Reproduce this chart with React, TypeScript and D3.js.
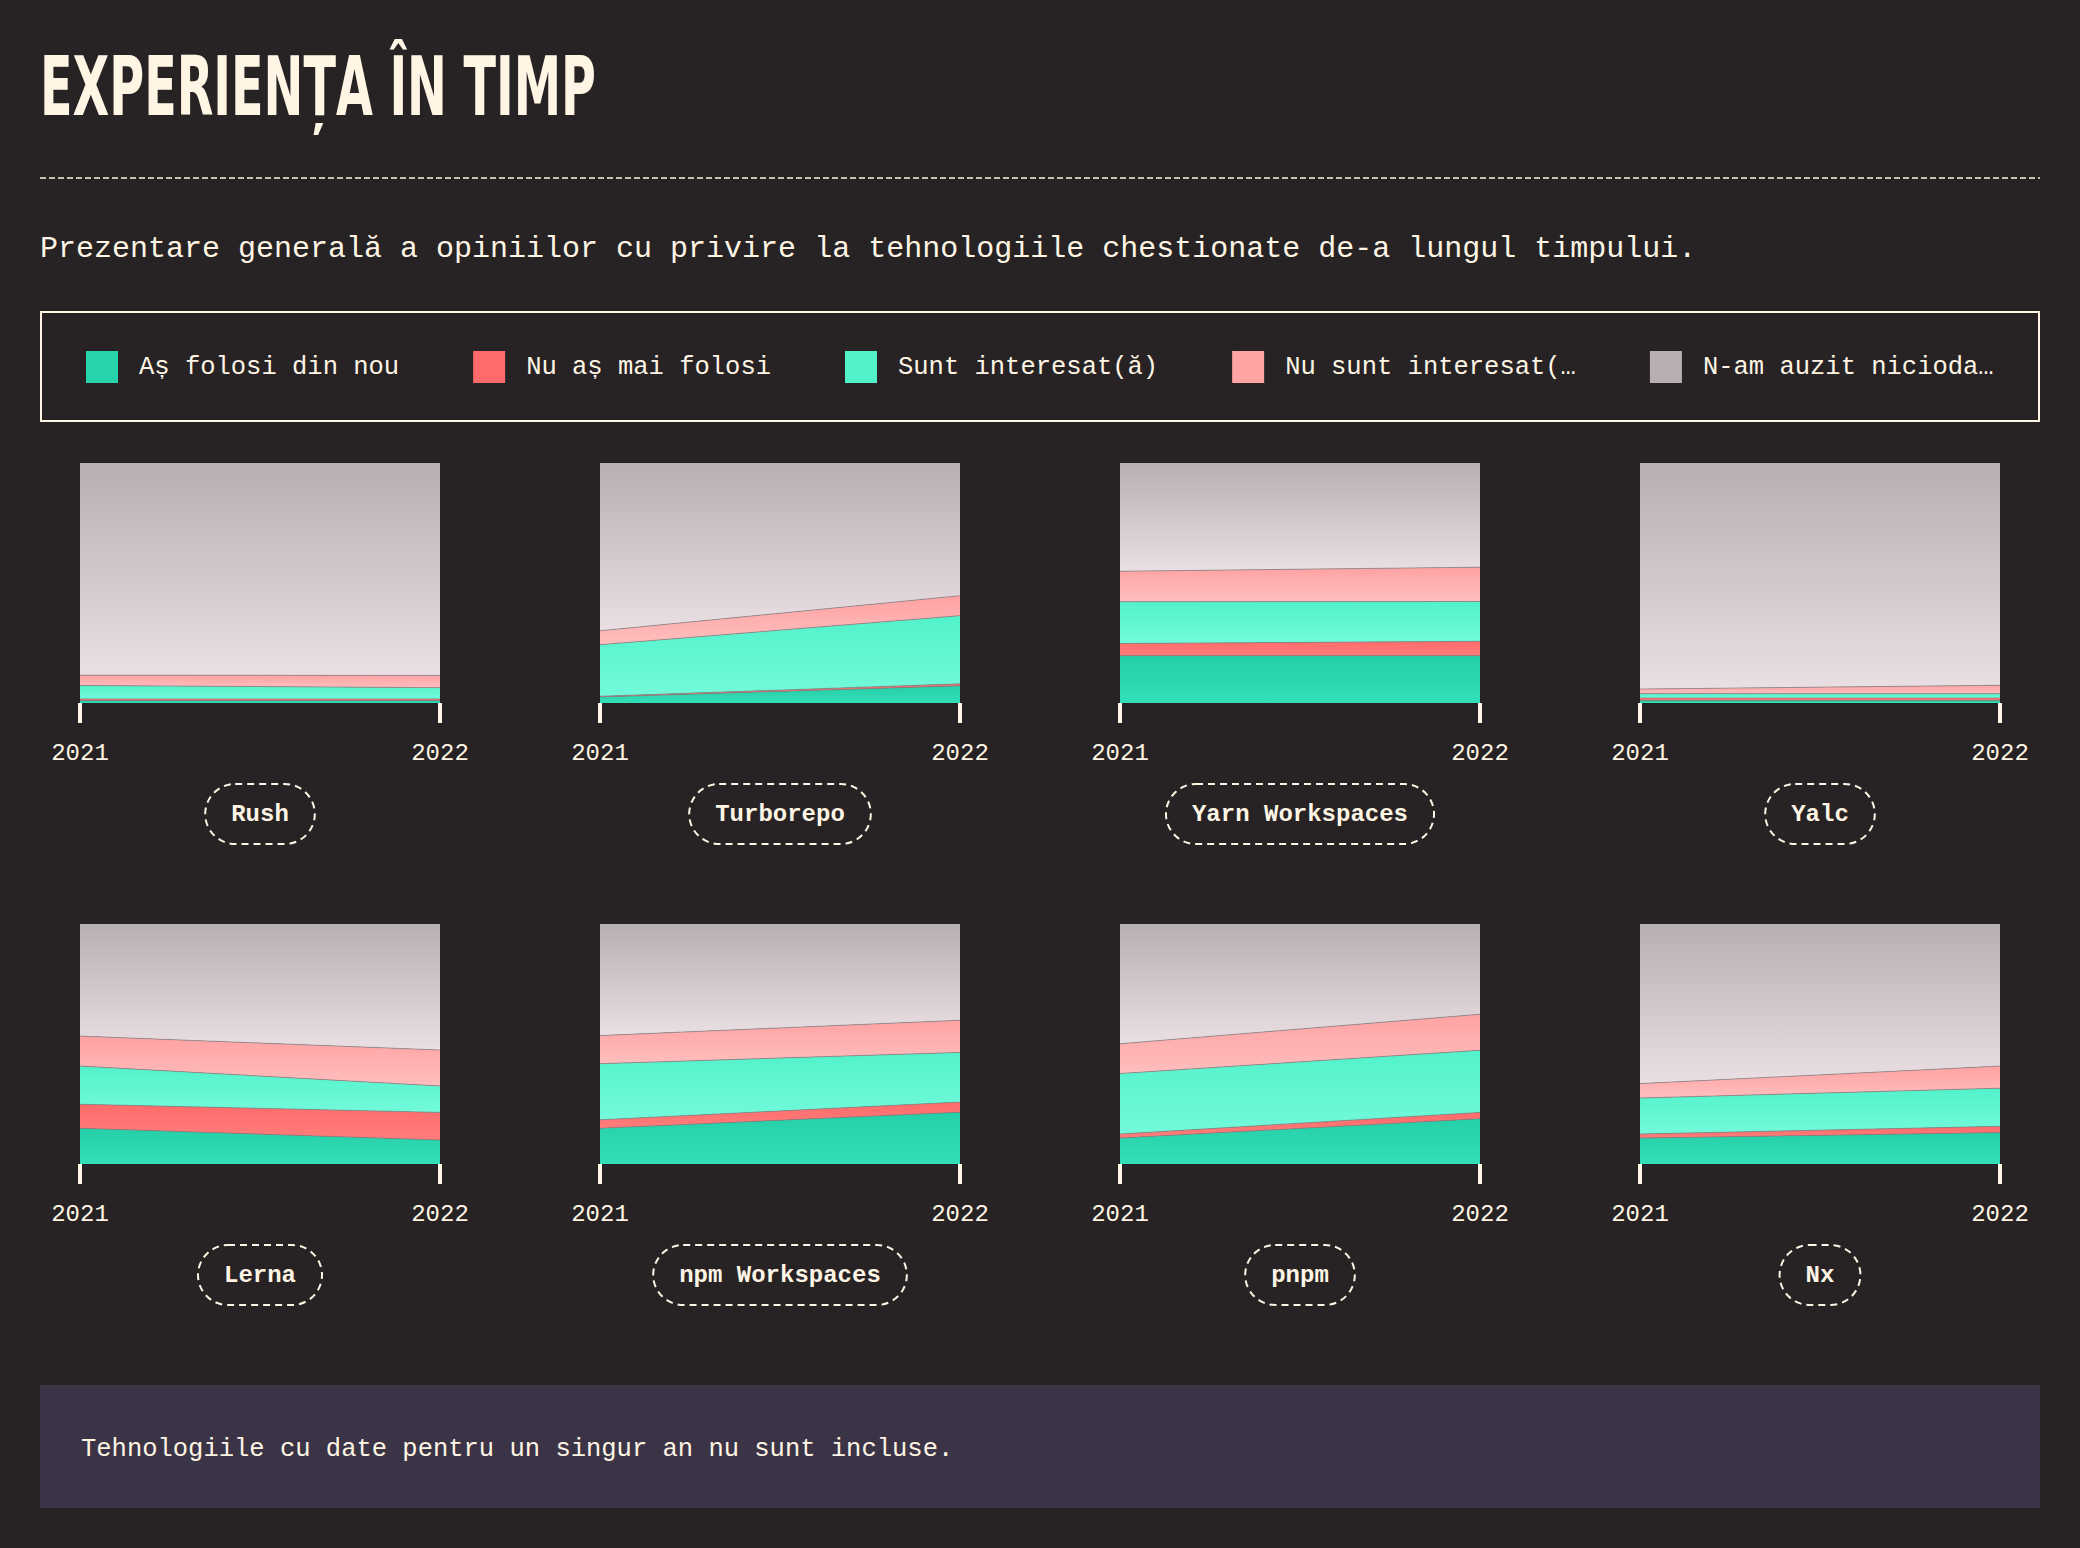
import * as d3 from "d3";
import { useEffect, useRef } from "react";

// chart data (percent of respondents, [2021, 2022])
const years = ["2021", "2022"];
const tools = ["Rush", "Turborepo", "Yarn Workspaces", "Yalc", "Lerna", "npm Workspaces", "pnpm", "Nx"];
const seriesLabels = [
  "Aș folosi din nou",
  "Nu aș mai folosi",
  "Sunt interesat(ă)",
  "Nu sunt interesat(…",
  "N-am auzit nicioda…",
];

const wouldUse = [[1.0, 1.0], [2.5, 7.2], [19.7, 19.7], [1.1, 1.1], [14.9, 10.0], [14.9, 21.6], [10.8, 18.9], [10.8, 13.1]];
const wouldNotUse = [[0.7, 0.7], [0.3, 0.8], [5.1, 6.0], [1.0, 1.0], [10.0, 11.5], [3.5, 4.2], [1.7, 2.6], [1.7, 2.6]];
const interested = [[5.6, 4.7], [21.5, 28.4], [17.4, 16.6], [1.8, 1.8], [15.9, 11.0], [23.4, 20.7], [25.2, 25.9], [15.0, 15.9]];
const notInterested = [[4.3, 5.1], [5.8, 8.3], [12.7, 14.3], [1.9, 3.5], [12.5, 15.0], [11.7, 13.4], [12.4, 15.0], [6.0, 9.2]];
const neverHeard = [[88.4, 88.5], [69.9, 55.3], [45.1, 43.4], [94.2, 92.6], [46.7, 52.5], [46.5, 40.1], [49.9, 37.6], [66.5, 59.2]];

const seriesValues = [wouldUse, wouldNotUse, interested, notInterested, neverHeard];
const swatchColors = ["#26d3ab", "#ff6b6b", "#52f2cb", "#ffa3a3", "#b8afb2"];
const gradientStops = [
  ["#25cfa8", "#33dfb6"],
  ["#ff6b6b", "#ff7d7b"],
  ["#52f2cb", "#73fadb"],
  ["#ffa2a3", "#ffbebe"],
  ["#b8afb2", "#eadfe3"],
];

const W = 2080;
const H = 1548;
const BG = "#272324";
const CREAM = "#fff5e4";
const MONO = "'Liberation Mono', 'DejaVu Sans Mono', monospace";

export default function App() {
  const ref = useRef<SVGSVGElement | null>(null);

  useEffect(() => {
    document.body.style.margin = "0";
    document.body.style.background = BG;
    const svg = d3.select(ref.current);
    svg.selectAll("*").remove();

    svg.append("rect").attr("width", W).attr("height", H).attr("fill", BG);

    const defs = svg.append("defs");
    gradientStops.forEach((stops, i) => {
      const g = defs.append("linearGradient").attr("id", `grad${i}`)
        .attr("x1", 0).attr("y1", 0).attr("x2", 0).attr("y2", 1);
      g.append("stop").attr("offset", "0%").attr("stop-color", stops[0]);
      g.append("stop").attr("offset", "100%").attr("stop-color", stops[1]);
    });

    // header
    svg.append("text")
      .attr("x", 40).attr("y", 115)
      .attr("font-family", "'Liberation Sans Narrow', 'DejaVu Sans Condensed', 'Liberation Sans', sans-serif")
      .attr("font-weight", 700)
      .attr("font-size", 82)
      .attr("textLength", 556)
      .attr("lengthAdjust", "spacingAndGlyphs")
      .attr("fill", CREAM)
      .text("EXPERIENȚA ÎN TIMP");

    svg.append("line")
      .attr("x1", 40).attr("x2", 2040).attr("y1", 178).attr("y2", 178)
      .attr("stroke", CREAM).attr("stroke-width", 1.5).attr("stroke-dasharray", "6 3");

    svg.append("text")
      .attr("x", 40).attr("y", 257)
      .attr("font-family", MONO).attr("font-size", 30)
      .attr("fill", CREAM)
      .text("Prezentare generală a opiniilor cu privire la tehnologiile chestionate de-a lungul timpului.");

    // legend
    svg.append("rect")
      .attr("x", 41).attr("y", 312).attr("width", 1998).attr("height", 109)
      .attr("fill", "none").attr("stroke", CREAM).attr("stroke-width", 2);

    let lx = 86;
    seriesLabels.forEach((label, i) => {
      svg.append("rect")
        .attr("x", lx).attr("y", 351).attr("width", 32).attr("height", 32)
        .attr("fill", swatchColors[i]);
      const t = svg.append("text")
        .attr("x", lx + 53).attr("y", 367)
        .attr("dominant-baseline", "central")
        .attr("font-family", MONO).attr("font-size", 25.5)
        .attr("fill", CREAM)
        .text(label);
      const len = (t.node() as SVGTextElement).getComputedTextLength();
      lx += 53 + len + 74;
    });

    // small multiples
    const plotW = 360;
    const plotH = 240;
    const x = d3.scalePoint<string>().domain(years).range([0, plotW]);
    const y = d3.scaleLinear().domain([0, 100]).range([plotH, 0]);
    const stack = d3.stack<any>().keys(seriesLabels.map((_, i) => String(i)));
    const area = d3.area<any>()
      .x(d => x(d.data.year)!)
      .y0(d => y(d[0]))
      .y1(d => y(d[1]));
    const topLine = d3.line<any>()
      .x(d => x(d.data.year)!)
      .y(d => y(d[1]));

    tools.forEach((tool, ti) => {
      const col = ti % 4;
      const row = Math.floor(ti / 4);
      const g = svg.append("g")
        .attr("transform", `translate(${80 + col * 520},${463 + row * 461})`);

      const rows = years.map((year, yi) => {
        const r: any = { year };
        seriesValues.forEach((vals, si) => (r[String(si)] = vals[ti][yi]));
        return r;
      });
      const layers = stack(rows);

      g.selectAll("path.area")
        .data(layers)
        .enter()
        .append("path")
        .attr("class", "area")
        .attr("d", area)
        .attr("fill", (_, i) => `url(#grad${i})`);

      g.selectAll("path.edge")
        .data(layers.slice(0, layers.length - 1))
        .enter()
        .append("path")
        .attr("class", "edge")
        .attr("d", topLine)
        .attr("fill", "none")
        .attr("stroke", "#8a8183")
        .attr("stroke-opacity", 0.7)
        .attr("stroke-width", 1);

      // axis ticks
      years.forEach(yr => {
        g.append("rect")
          .attr("x", x(yr)! - 2).attr("y", plotH).attr("width", 4).attr("height", 20)
          .attr("fill", CREAM);
        g.append("text")
          .attr("x", x(yr)!).attr("y", plotH + 57)
          .attr("text-anchor", "middle")
          .attr("font-family", MONO).attr("font-size", 24)
          .attr("fill", CREAM)
          .text(yr);
      });

      // name pill
      const label = g.append("text")
        .attr("x", plotW / 2).attr("y", plotH + 111)
        .attr("text-anchor", "middle")
        .attr("dominant-baseline", "central")
        .attr("font-family", MONO).attr("font-size", 24).attr("font-weight", 700)
        .attr("fill", CREAM)
        .text(tool);
      const tw = (label.node() as SVGTextElement).getComputedTextLength();
      g.insert("rect", "text:last-of-type")
        .attr("x", plotW / 2 - tw / 2 - 26).attr("y", plotH + 81)
        .attr("width", tw + 52).attr("height", 60)
        .attr("rx", 30).attr("ry", 30)
        .attr("fill", "none")
        .attr("stroke", CREAM).attr("stroke-width", 2)
        .attr("stroke-dasharray", "7 5");
    });

    // footer note
    svg.append("rect")
      .attr("x", 40).attr("y", 1385).attr("width", 2000).attr("height", 123)
      .attr("fill", "#3b3446");
    svg.append("text")
      .attr("x", 81).attr("y", 1456)
      .attr("font-family", MONO).attr("font-size", 25.5)
      .attr("fill", CREAM)
      .text("Tehnologiile cu date pentru un singur an nu sunt incluse.");
  }, []);

  return (
    <div style={{ position: "absolute", left: 0, top: 0 }}>
      <svg ref={ref} width={W} height={H} style={{ display: "block" }} />
    </div>
  );
}
